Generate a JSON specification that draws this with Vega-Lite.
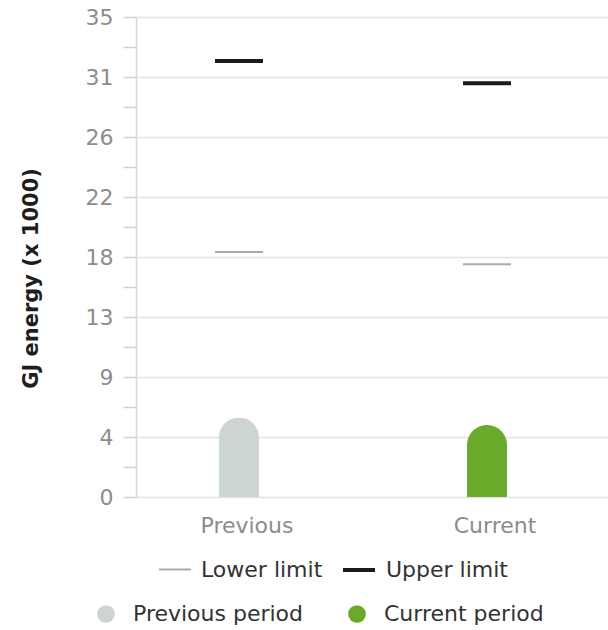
{
  "$schema": "https://vega.github.io/schema/vega-lite/v6.json",
  "width": 472,
  "height": 480,
  "autosize": {"type": "none"},
  "padding": {"left": 136, "top": 17, "right": 0, "bottom": 133},
  "background": "white",
  "config": {
    "view": {"stroke": null},
    "font": "DejaVu Sans",
    "legend": {"padding": 0, "titlePadding": 0}
  },
  "datasets": {
    "bars": [
      {"cat": "Previous", "period": "Previous period", "value": 5.8},
      {"cat": "Current", "period": "Current period", "value": 5.25}
    ],
    "limits": [
      {"cat": "Previous", "limit": "Lower limit", "value": 17.86},
      {"cat": "Previous", "limit": "Upper limit", "value": 31.8},
      {"cat": "Current", "limit": "Lower limit", "value": 16.97},
      {"cat": "Current", "limit": "Upper limit", "value": 30.17}
    ]
  },
  "resolve": {"axis": {"y": "independent"}, "scale": {"y": "shared"}},
  "layer": [
    {
      "data": {"name": "bars"},
      "mark": {"type": "bar", "width": 40, "cornerRadiusTopLeft": 20, "cornerRadiusTopRight": 20},
      "encoding": {
        "x": {
          "field": "cat", "type": "nominal", "sort": ["Previous", "Current"],
          "scale": {"paddingInner": 0.8065, "paddingOuter": 0.3548, "align": 0.4489},
          "axis": {
            "title": null, "domain": false, "ticks": false, "grid": false,
            "labelAngle": 0, "labelFontSize": 22, "labelColor": "#8c8c8c",
            "labelPadding": 18, "labelOffset": 8, "labelFont": "DejaVu Sans"
          }
        },
        "y": {
          "field": "value", "type": "quantitative",
          "scale": {"domain": [0, 35], "nice": false, "zero": true},
          "axis": {
            "orient": "left",
            "title": "GJ energy (x 1000)",
            "titleFontSize": 21, "titleFontWeight": "bold", "titleColor": "#1e1e1e",
            "titleFont": "DejaVu Sans",
            "titlePadding": 44,
            "titleY": 261,
            "values": [0, 4.375, 8.75, 13.125, 17.5, 21.875, 26.25, 30.625, 35],
            "format": ".0f",
            "labelOverlap": false,
            "labelBound": false,
            "labelFontSize": 22, "labelColor": "#8c8c8c", "labelPadding": 10, "labelFont": "DejaVu Sans",
            "grid": true,
            "gridColor": "#e3e3e3", "gridWidth": 1.5,
            "domainColor": "#d8d8d8", "domainWidth": 1.5,
            "ticks": true,
            "tickColor": "#d0d0d0", "tickSize": 13, "tickWidth": 1.5
          }
        },
        "fill": {
          "field": "period", "type": "nominal",
          "scale": {"domain": ["Previous period", "Current period"], "range": ["#cdd5d1", "#6aaa2a"]},
          "legend": {
            "orient": "none", "legendX": -41, "legendY": 586, "direction": "horizontal",
            "title": null, "symbolType": "circle", "symbolSize": 314, "symbolStrokeWidth": 0,
            "labelOffset": 16, "columnPadding": 42, "labelFontSize": 22, "labelColor": "#333333",
            "labelFont": "DejaVu Sans", "labelLimit": 300
          }
        }
      }
    },
    {
      "data": {"name": "limits"},
      "mark": {"type": "rule"},
      "encoding": {
        "x": {"field": "cat", "type": "nominal", "sort": ["Previous", "Current"], "bandPosition": 0},
        "x2": {"field": "cat", "bandPosition": 1},
        "y": {
          "field": "value", "type": "quantitative",
          "axis": {
            "orient": "left",
            "title": null,
            "values": [2.1875, 6.5625, 10.9375, 15.3125, 19.6875, 24.0625, 28.4375, 32.8125],
            "labels": false,
            "grid": false,
            "domain": false,
            "ticks": true,
            "tickColor": "#d0d0d0", "tickSize": 13, "tickWidth": 1.5
          }
        },
        "color": {
          "field": "limit", "type": "nominal",
          "scale": {"domain": ["Lower limit", "Upper limit"], "range": ["#aaaaaa", "#1c1c1c"]},
          "legend": {
            "orient": "none", "legendX": 22, "legendY": 535, "direction": "horizontal",
            "title": null, "symbolType": "stroke", "symbolSize": 1024,
            "labelOffset": 9, "columnPadding": 12, "labelFontSize": 22, "labelColor": "#333333",
            "labelFont": "DejaVu Sans", "labelLimit": 300
          }
        },
        "strokeWidth": {
          "field": "limit", "type": "nominal",
          "scale": {"domain": ["Lower limit", "Upper limit"], "range": [2, 4]},
          "legend": null
        }
      }
    }
  ]
}
